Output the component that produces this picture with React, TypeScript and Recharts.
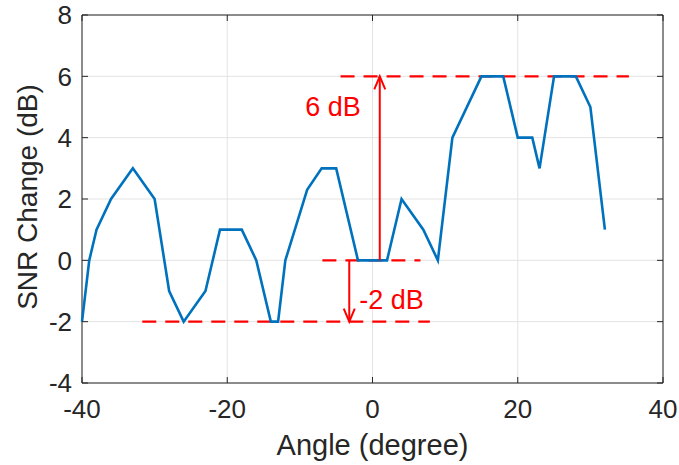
import React from 'react';
import {
  LineChart, Line, XAxis, YAxis, CartesianGrid, ReferenceArea, ReferenceLine, ReferenceDot, Label,
} from 'recharts';

// values
const angles = [-40, -39, -38, -36, -33, -30, -28, -26, -23, -21, -18, -16, -14, -13, -12, -9, -7, -5, -2, 2, 4, 7, 9, 11, 15, 18, 20, 22, 23, 25, 28, 30, 32];
const snrChange = [-2, 0, 1, 2, 3, 2, -1, -2, -1, 1, 1, 0, -2, -2, 0, 2.3, 3, 3, 0, 0, 2, 1, 0, 4, 6, 6, 4, 4, 3, 6, 6, 5, 1];
const xTicks = [-40, -20, 0, 20, 40];
const yTicks = [-4, -2, 0, 2, 4, 6, 8];

// red dashed reference levels: level, start angle, end angle
const guideLevels = [6, 0, -2];
const guideStarts = [-4.4, -6.9, -31.7];
const guideEnds = [35.3, 6.6, 7.9];

// arrows: angle, from level, to level, label, label level
const arrowAngles = [1, -3.2];
const arrowFrom = [0, 0];
const arrowTo = [6, -2];
const arrowLabels = ['6 dB', '-2 dB'];
const arrowLabelLevels = [5.03, -1.26];

const data = angles.map((a, i) => ({ angle: a, snr: snrChange[i] }));

const W = 679;
const H = 465;
const MARGIN = { top: 15, right: 16, left: 0, bottom: 0 };
const Y_AXIS_W = 82;
const X_AXIS_H = 82;
const PLOT_W = W - MARGIN.left - MARGIN.right - Y_AXIS_W;
const PLOT_H = H - MARGIN.top - MARGIN.bottom - X_AXIS_H;
const FONT = '"Liberation Sans", Arial, Helvetica, sans-serif';
const INK = '#262626';
const RED = '#ff0000';
const TICK_LEN = 6;
const X_TICK_GAP = 17;
const Y_TICK_GAP = 10;

const XTick = (props: any) => {
  const { x, y, payload } = props;
  const axisY = y - X_TICK_GAP;
  const topY = axisY - PLOT_H;
  return (
    <g>
      <line x1={x} x2={x} y1={axisY} y2={axisY - TICK_LEN} stroke={INK} strokeWidth={1} />
      <line x1={x} x2={x} y1={topY} y2={topY + TICK_LEN} stroke={INK} strokeWidth={1} />
      <text x={x} y={y} dy="0.71em" textAnchor="middle" fill={INK} fontSize={26} fontFamily={FONT}>
        {payload.value}
      </text>
    </g>
  );
};

const YTick = (props: any) => {
  const { x, y, payload } = props;
  const axisX = x + Y_TICK_GAP;
  const rightX = axisX + PLOT_W;
  return (
    <g>
      <line x1={axisX} x2={axisX + TICK_LEN} y1={y} y2={y} stroke={INK} strokeWidth={1} />
      <line x1={rightX} x2={rightX - TICK_LEN} y1={y} y2={y} stroke={INK} strokeWidth={1} />
      <text x={x} y={y} dy="0.355em" textAnchor="end" fill={INK} fontSize={26} fontFamily={FONT}>
        {payload.value}
      </text>
    </g>
  );
};

const Arrow = (props: any) => {
  const { x1, y1, x2, y2 } = props;
  const dir = y2 < y1 ? 1 : -1;
  const headLen = 13;
  const headHalf = 5.5;
  return (
    <g>
      <line x1={x1} y1={y1} x2={x2} y2={y2} stroke={RED} strokeWidth={2} />
      <polyline
        points={`${x2 - headHalf},${y2 + dir * headLen} ${x2},${y2} ${x2 + headHalf},${y2 + dir * headLen}`}
        fill="none"
        stroke={RED}
        strokeWidth={2}
      />
    </g>
  );
};

const XTitle = (props: any) => {
  const { viewBox } = props;
  const cx = viewBox.x + viewBox.width / 2;
  return (
    <text x={cx} y={viewBox.y + 72} textAnchor="middle" fill={INK} fontSize={29} fontFamily={FONT}>
      Angle (degree)
    </text>
  );
};

const YTitle = (props: any) => {
  const { viewBox } = props;
  const cx = viewBox.x + 37;
  const cy = MARGIN.top + PLOT_H / 2 - 2;
  return (
    <text x={cx} y={cy} transform={`rotate(-90, ${cx}, ${cy})`} textAnchor="middle" fill={INK} fontSize={28} fontFamily={FONT}>
      SNR Change (dB)
    </text>
  );
};

export default function App() {
  return (
    <div style={{ position: 'absolute', left: 0, top: 0, width: W, height: H, background: '#fff' }}>
      <LineChart width={W} height={H} data={data} margin={MARGIN}>
        <CartesianGrid stroke="#e3e3e3" strokeWidth={1} />
        <XAxis
          type="number"
          dataKey="angle"
          domain={[-40, 40]}
          ticks={xTicks}
          height={X_AXIS_H}
          axisLine={false}
          tickLine={false}
          tickSize={0}
          tickMargin={X_TICK_GAP}
          tick={<XTick />}
          interval={0}
        >
          <Label content={<XTitle />} />
        </XAxis>
        <YAxis
          type="number"
          domain={[-4, 8]}
          ticks={yTicks}
          width={Y_AXIS_W}
          axisLine={false}
          tickLine={false}
          tickSize={0}
          tickMargin={Y_TICK_GAP}
          tick={<YTick />}
          interval={0}
        >
          <Label content={<YTitle />} />
        </YAxis>
        <ReferenceArea x1={-40} x2={40} y1={-4} y2={8} fill="none" stroke={INK} strokeWidth={1} />
        {guideLevels.map((lv, i) => (
          <ReferenceLine
            key={`g${i}`}
            segment={[{ x: guideStarts[i], y: lv }, { x: guideEnds[i], y: lv }]}
            stroke={RED}
            strokeWidth={2.3}
            strokeDasharray="14 9"
          />
        ))}
        <Line
          type="linear"
          dataKey="snr"
          stroke="#0072BD"
          strokeWidth={2.6}
          dot={false}
          activeDot={false}
          isAnimationActive={false}
        />
        {arrowAngles.map((a, i) => (
          <ReferenceLine
            key={`a${i}`}
            segment={[{ x: a, y: arrowFrom[i] }, { x: a, y: arrowTo[i] }]}
            shape={<Arrow />}
          />
        ))}
        {arrowAngles.map((a, i) => (
          <ReferenceDot
            key={`l${i}`}
            x={a}
            y={arrowLabelLevels[i]}
            r={0}
            fill="none"
            stroke="none"
            label={{
              value: arrowLabels[i],
              position: i === 0 ? 'left' : 'right',
              offset: i === 0 ? 19 : 10,
              fill: RED,
              fontSize: 27,
              fontFamily: FONT,
            }}
          />
        ))}
      </LineChart>
    </div>
  );
}
